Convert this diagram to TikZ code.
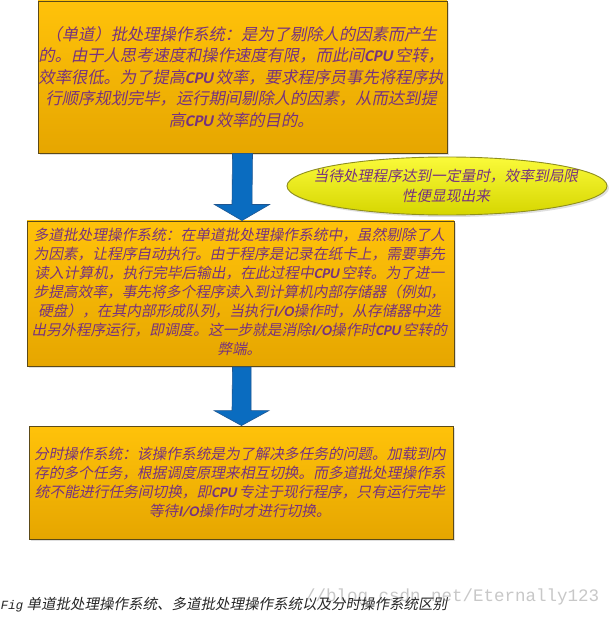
\documentclass[tikz,border=0pt]{standalone}
\usepackage{fontspec}
\setmainfont{Liberation Sans}
\newfontfamily\cjk{Noto Sans CJK SC}
\newfontfamily\latb{Carlito}
\newfontfamily\monof{Liberation Mono}
\usetikzlibrary{shapes.geometric,shadows,calc}
\newcommand{\CPUb}{{\latb\bfseries CPU}\,}
\newcommand{\IOb}{{\latb\bfseries I/O}}
% one centred line, shifted left by #1 pt to undo the block slant
\newcommand{\tline}[2]{\makebox[0pt]{\kern-#1pt\relax #2\kern#1pt\relax}}
\definecolor{boxtop}{HTML}{FFC20A}
\definecolor{boxbot}{HTML}{E6A600}
\definecolor{boxline}{HTML}{5C4A18}
\definecolor{txtpurple}{HTML}{76327F}
\definecolor{elltop}{HTML}{FAFA3A}
\definecolor{ellbot}{HTML}{D6D600}
\definecolor{ellline}{HTML}{8E8E1E}
\definecolor{arrowfill}{HTML}{0A6CC0}
\definecolor{arrowline}{HTML}{1F5690}
\definecolor{wmgray}{HTML}{C8C8C8}
\tikzset{
  textbox/.style={rectangle, draw=boxline, line width=0.9pt, top color=boxtop, bottom color=boxbot,
    inner sep=0pt,
    drop shadow={opacity=0.25, shadow xshift=2pt, shadow yshift=-2pt}},
  ellshape/.style={ellipse, draw=ellline, line width=0.9pt, top color=elltop, bottom color=ellbot,
    inner sep=0pt, drop shadow={opacity=0.25, shadow xshift=2pt, shadow yshift=-2pt}},
  slanttext/.style={inner sep=0pt, align=center, text=txtpurple, xslant=0.2, transform shape},
  blockarrow/.style={fill=arrowfill, draw=arrowline, line width=0.6pt},
}
\begin{document}
\begin{tikzpicture}[x=1pt, y=-1pt]
\useasboundingbox (0,0) rectangle (608,617);
\fill[white] (0,0) rectangle (608,617);

\node[textbox, minimum width=409pt, minimum height=152pt] (b1) at (242.5,77) {};
\node[slanttext, font=\cjk\fontsize{16.3}{21.4}\selectfont] (b1t) at (b1.center)
 {\tline{8.56}{（单道）批处理操作系统：是为了剔除人的因素而产生}\\
  \tline{4.28}{的。由于人思考速度和操作速度有限，而此间\CPUb 空转，}\\
  \tline{0}{效率很低。为了提高\CPUb 效率，要求程序员事先将程序执}\\
  \tline{-4.28}{行顺序规划完毕，运行期间剔除人的因素，从而达到提}\\
  \tline{-8.56}{高\CPUb 效率的目的。}};

\node[textbox, minimum width=427pt, minimum height=145pt] (b2) at (240.5,293.5) {};
\node[slanttext, font=\cjk\fontsize{14.7}{19}\selectfont] (b2t) at ([yshift=2pt]b2.center)
 {\tline{11.4}{多道批处理操作系统：在单道批处理操作系统中，虽然剔除了人}\\
  \tline{7.6}{为因素，让程序自动执行。由于程序是记录在纸卡上，需要事先}\\
  \tline{3.8}{读入计算机，执行完毕后输出，在此过程中\CPUb 空转。为了进一}\\
  \tline{0}{步提高效率，事先将多个程序读入到计算机内部存储器（例如，}\\
  \tline{-3.8}{硬盘），在其内部形成队列，当执行\IOb 操作时，从存储器中选}\\
  \tline{-7.6}{出另外程序运行，即调度。这一步就是消除\IOb 操作时\CPUb 空转的}\\
  \tline{-11.4}{弊端。}};

\node[textbox, minimum width=424pt, minimum height=113pt] (b3) at (241,482.5) {};
\node[slanttext, font=\cjk\fontsize{14.7}{19}\selectfont] (b3t) at (b3.center)
 {\tline{5.7}{分时操作系统：该操作系统是为了解决多任务的问题。加载到内}\\
  \tline{1.9}{存的多个任务，根据调度原理来相互切换。而多道批处理操作系}\\
  \tline{-1.9}{统不能进行任务间切换，即\CPUb 专注于现行程序，只有运行完毕}\\
  \tline{-5.7}{等待\IOb 操作时才进行切换。}};

\node[ellshape, minimum width=320pt, minimum height=58pt] (ell) at (447,186) {};
\node[slanttext, font=\cjk\fontsize{14.7}{20}\selectfont] (ellt) at (ell.center)
 {\tline{2}{当待处理程序达到一定量时，效率到局限}\\\tline{-2}{性便显现出来}};

% block arrows
\coordinate (t1) at ([xshift=-0.5pt]b1.south |- b2.north);
\filldraw[blockarrow] ([xshift=-10pt]b1.south) -- ([xshift=-10pt,yshift=16pt]t1)
  -- ([xshift=-27.5pt,yshift=16pt]t1) -- (t1) -- ([xshift=27.5pt,yshift=16pt]t1)
  -- ([xshift=10pt,yshift=16pt]t1) -- ([xshift=10pt]b1.south) -- cycle;

\coordinate (t2) at ([xshift=1pt]b2.south |- b3.north);
\filldraw[blockarrow] ([xshift=-9pt,yshift=-0.5pt]t2 |- b2.south) -- ([xshift=-9.5pt,yshift=15pt]t2)
  -- ([xshift=-27.5pt,yshift=15pt]t2) -- (t2) -- ([xshift=27.5pt,yshift=15pt]t2)
  -- ([xshift=9.5pt,yshift=15pt]t2) -- ([xshift=9.5pt,yshift=-0.5pt]t2 |- b2.south) -- cycle;

% caption and watermark
\node[anchor=west, inner sep=0pt, text=wmgray, font=\monof\fontsize{17.5}{18}\selectfont] (wm) at (305,597)
 {//blog.csdn.net/Eternally123};
\node[anchor=west, inner sep=0pt, text=black!85, xslant=0.2, transform shape] (cap) at (1,605)
 {{\monof\fontsize{12.5}{14}\selectfont Fig}\hspace{4pt}{\cjk\fontsize{14.5}{16}\selectfont 单道批处理操作系统、多道批处理操作系统以及分时操作系统区别}};
\end{tikzpicture}
\end{document}
